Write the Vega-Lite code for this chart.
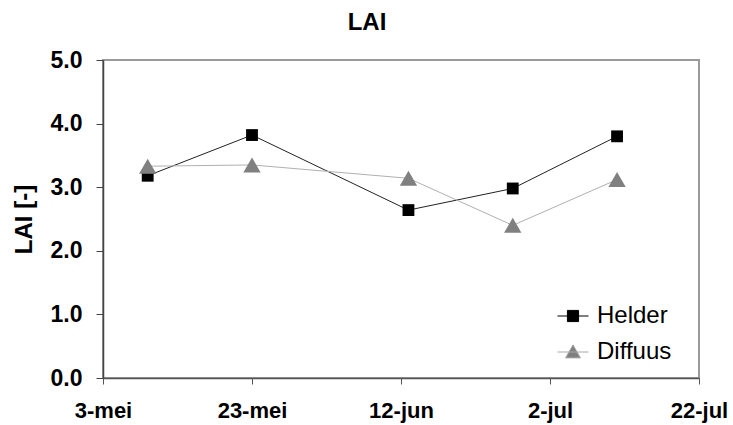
{
  "$schema": "https://vega.github.io/schema/vega-lite/v6.json",
  "width": 596,
  "height": 318,
  "autosize": {"type": "none"},
  "padding": {"left": 103, "top": 60, "right": 34, "bottom": 47},
  "background": "white",
  "title": {"text": "LAI", "fontSize": 24, "fontWeight": "bold", "font": "Liberation Sans", "offset": 14, "anchor": "middle", "dx": -34, "color": "#000"},
  "config": {
    "font": "Liberation Sans",
    "view": {"stroke": "#9a9a9a", "strokeWidth": 2}
  },
  "data": {
    "values": [
      {"date": "2008-05-09", "series": "Helder", "lai": 3.18},
      {"date": "2008-05-23", "series": "Helder", "lai": 3.82},
      {"date": "2008-06-13", "series": "Helder", "lai": 2.64},
      {"date": "2008-06-27", "series": "Helder", "lai": 2.98},
      {"date": "2008-07-11", "series": "Helder", "lai": 3.80},
      {"date": "2008-05-09", "series": "Diffuus", "lai": 3.33},
      {"date": "2008-05-23", "series": "Diffuus", "lai": 3.35},
      {"date": "2008-06-13", "series": "Diffuus", "lai": 3.14},
      {"date": "2008-06-27", "series": "Diffuus", "lai": 2.40},
      {"date": "2008-07-11", "series": "Diffuus", "lai": 3.12}
    ]
  },
  "encoding": {
    "x": {
      "field": "date", "type": "temporal",
      "scale": {"type": "utc", "domain": [{"year": 2008, "month": 5, "date": 3, "utc": true}, {"year": 2008, "month": 7, "date": 22, "utc": true}]},
      "axis": {
        "title": null,
        "grid": false,
        "values": [
          {"year": 2008, "month": 5, "date": 3, "utc": true},
          {"year": 2008, "month": 5, "date": 23, "utc": true},
          {"year": 2008, "month": 6, "date": 12, "utc": true},
          {"year": 2008, "month": 7, "date": 2, "utc": true},
          {"year": 2008, "month": 7, "date": 22, "utc": true}
        ],
        "labelExpr": "utcdate(datum.value) + '-' + ['jan','feb','mrt','apr','mei','jun','jul','aug','sep','okt','nov','dec'][utcmonth(datum.value)]",
        "labelFontSize": 22,
        "labelFontWeight": "bold",
        "labelColor": "#000",
        "labelPadding": 16,
        "labelFlush": false,
        "labelOverlap": false,
        "labelBound": false,
        "tickSize": 6,
        "tickColor": "#555",
        "domainColor": "#555",
        "domainWidth": 1.5
      }
    },
    "y": {
      "field": "lai", "type": "quantitative",
      "scale": {"domain": [0, 5], "nice": false, "zero": true},
      "axis": {
        "title": "LAI [-]",
        "titleFontSize": 24,
        "titleFontWeight": "bold",
        "titleColor": "#000",
        "titlePadding": 14,
        "values": [0, 1, 2, 3, 4, 5],
        "format": ".1f",
        "grid": false,
        "labelFontSize": 23,
        "labelFontWeight": "bold",
        "labelColor": "#000",
        "labelPadding": 14,
        "labelFlush": false,
        "tickSize": 7,
        "tickColor": "#444",
        "domainColor": "#444",
        "domainWidth": 1.5
      }
    }
  },
  "layer": [
    {
      "mark": {"type": "line", "strokeWidth": 1},
      "encoding": {
        "detail": {"field": "series"},
        "color": {"condition": {"test": "datum.series === 'Helder'", "value": "#222222"}, "value": "#b0b0b0"}
      }
    },
    {
      "mark": {"type": "point", "filled": true, "opacity": 1},
      "encoding": {
        "color": {"condition": {"test": "datum.series === 'Helder'", "value": "#000000"}, "value": "#808080"},
        "shape": {"condition": {"test": "datum.series === 'Helder'", "value": "square"}, "value": "triangle-up"},
        "size": {"condition": {"test": "datum.series === 'Helder'", "value": 140}, "value": 300}
      }
    },
    {
      "mark": {"type": "point", "filled": true, "opacity": 1, "strokeWidth": 1},
      "encoding": {
        "fill": {
          "field": "series", "type": "nominal",
          "scale": {"domain": ["Helder", "Diffuus"], "range": ["#000000", "#808080"]},
          "legend": {
            "title": null,
            "orient": "none",
            "legendX": 454,
            "legendY": 240,
            "padding": 0,
            "rowPadding": 8,
            "labelFontSize": 24,
            "labelColor": "#000",
            "labelOffset": 8,
            "symbolSize": 961,
            "symbolOpacity": 1,
            "symbolStrokeWidth": 1
          }
        },
        "stroke": {
          "field": "series", "type": "nominal",
          "scale": {"domain": ["Helder", "Diffuus"], "range": ["#000000", "#a8a8a8"]},
          "legend": {
            "title": null,
            "orient": "none",
            "legendX": 454,
            "legendY": 240,
            "padding": 0,
            "rowPadding": 8,
            "labelFontSize": 24,
            "labelColor": "#000",
            "labelOffset": 8,
            "symbolSize": 961,
            "symbolOpacity": 1,
            "symbolStrokeWidth": 1
          }
        },
        "shape": {
          "field": "series", "type": "nominal",
          "scale": {"domain": ["Helder", "Diffuus"], "range": ["M-1,0H1M-0.36,-0.36H0.36V0.36H-0.36Z", "M-1,0H1M0,-0.46L0.48,0.38H-0.48Z"]},
          "legend": {
            "title": null,
            "orient": "none",
            "legendX": 454,
            "legendY": 240,
            "padding": 0,
            "rowPadding": 8,
            "labelFontSize": 24,
            "labelColor": "#000",
            "labelOffset": 8,
            "symbolSize": 961,
            "symbolOpacity": 1,
            "symbolStrokeWidth": 1
          }
        },
        "size": {"value": 0}
      }
    }
  ]
}
